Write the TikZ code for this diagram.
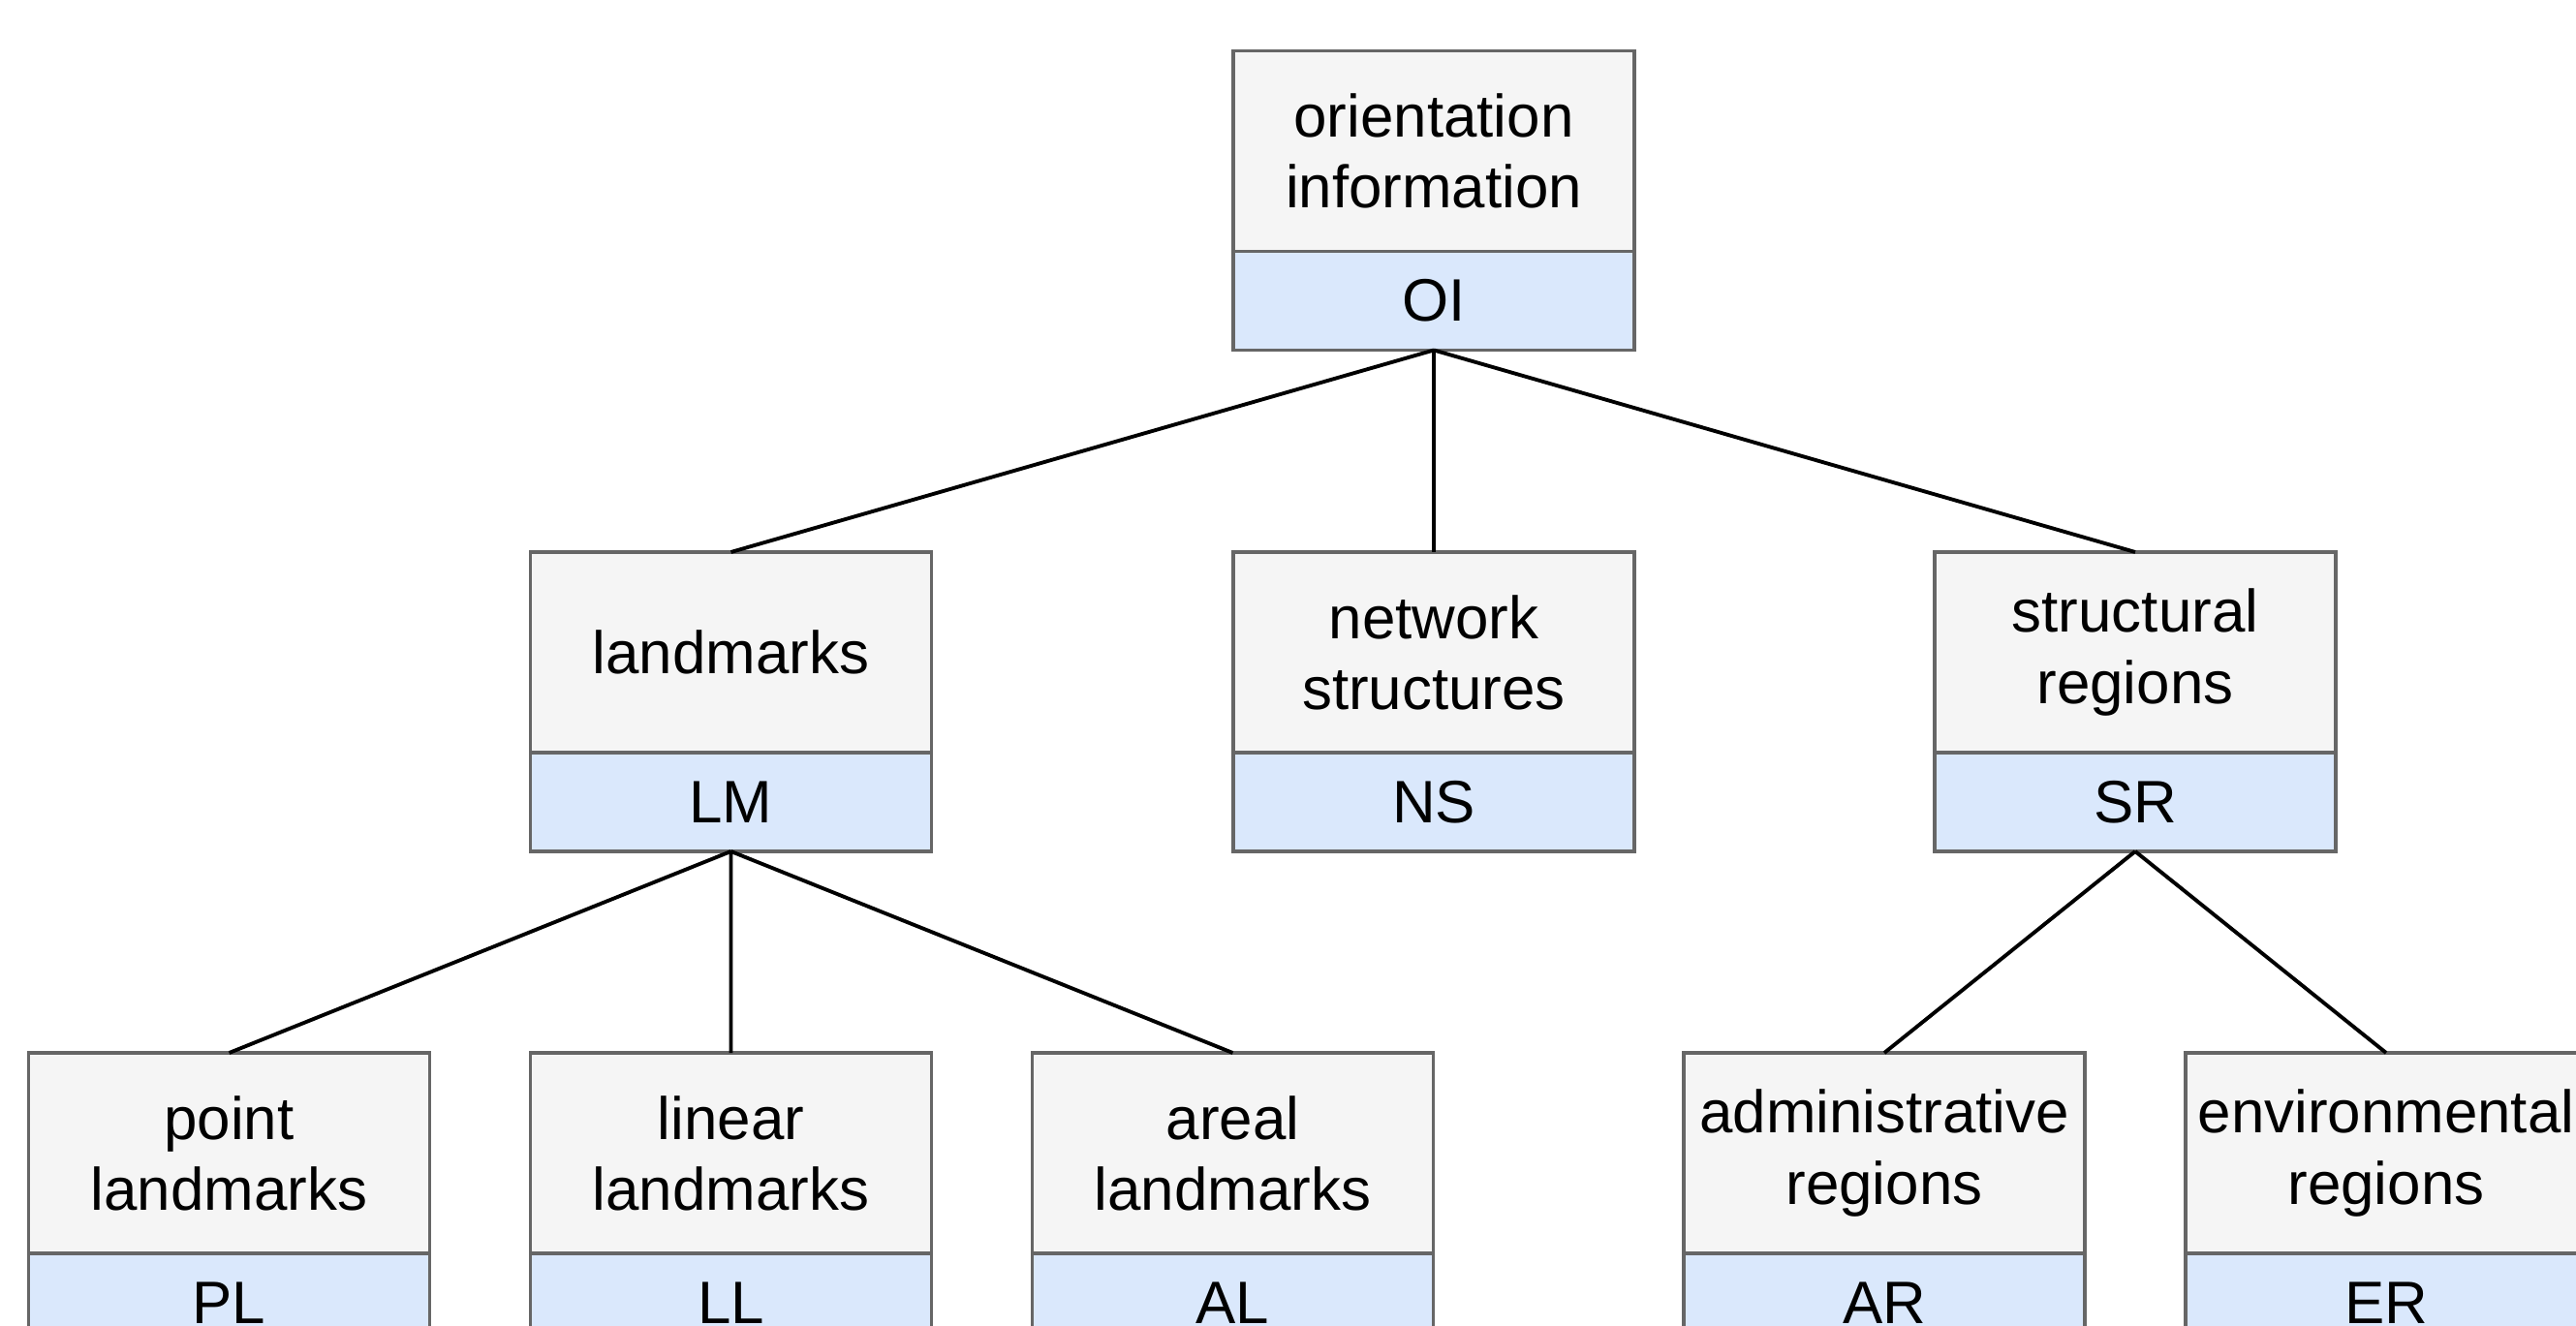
\documentclass[tikz,border=0pt]{standalone}
\usepackage{fontspec}
\setmainfont{Liberation Sans}
\usetikzlibrary{positioning}
\definecolor{termfill}{HTML}{F5F5F5}
\definecolor{abbrfill}{HTML}{DAE8FC}
\definecolor{boxline}{HTML}{666666}
\tikzset{
  term/.style={rectangle, draw=boxline, fill=termfill, line width=1.1pt, outer sep=0pt,
    minimum width=41.4mm, minimum height=20.7mm, align=center,
    font=\fontsize{17.6}{20.8}\selectfont},
  abbr/.style={term, fill=abbrfill, minimum height=10.2mm},
  connect/.style={draw=black, line width=1.1pt}
}

\begin{document}
\begin{tikzpicture}
  \useasboundingbox (0,0) rectangle (26.59,-13.69);

  \node[term] (OI) at (14.80,-1.56) {orientation\\information};
  \node[abbr] (OIc) [below=0pt of OI] {OI};

  \node[term] (LM) at (7.545,-6.735) {landmarks};
  \node[abbr] (LMc) [below=0pt of LM] {LM};
  \node[term] (NS) at (14.80,-6.735) {network\\structures};
  \node[abbr] (NSc) [below=0pt of NS] {NS};
  \node[term] (SR) at (22.04,-6.735) {structural\\regions};
  \node[abbr] (SRc) [below=0pt of SR] {SR};

  \node[term] (PL) at (2.365,-11.905) {point\\landmarks};
  \node[abbr] (PLc) [below=0pt of PL] {PL};
  \node[term] (LL) at (7.545,-11.905) {linear\\landmarks};
  \node[abbr] (LLc) [below=0pt of LL] {LL};
  \node[term] (AL) at (12.725,-11.905) {areal\\landmarks};
  \node[abbr] (ALc) [below=0pt of AL] {AL};
  \node[term] (AR) at (19.45,-11.905) {administrative\\regions};
  \node[abbr] (ARc) [below=0pt of AR] {AR};
  \node[term] (ER) at (24.63,-11.905) {environmental\\regions};
  \node[abbr] (ERc) [below=0pt of ER] {ER};

  \path[connect] (OIc.south) -- (LM.north)
                 (OIc.south) -- (NS.north)
                 (OIc.south) -- (SR.north);
  \path[connect] (LMc.south) -- (PL.north)
                 (LMc.south) -- (LL.north)
                 (LMc.south) -- (AL.north);
  \path[connect] (SRc.south) -- (AR.north)
                 (SRc.south) -- (ER.north);

\end{tikzpicture}
\end{document}
